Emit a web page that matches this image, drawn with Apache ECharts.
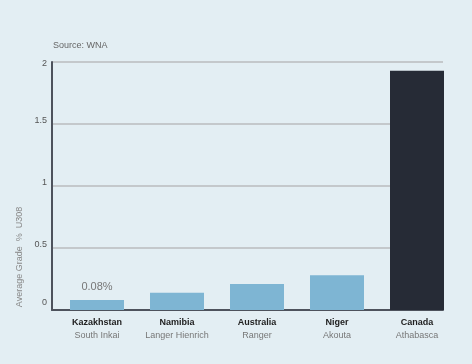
<!DOCTYPE html>
<html><head><meta charset="utf-8">
<script src="https://cdn.jsdelivr.net/npm/echarts@6/dist/echarts.min.js"></script>
<style>html,body{margin:0;padding:0;background:#e3eef3;}#c{width:472px;height:364px;}</style>
</head><body><div id="c"></div>
<script>
var countries = ['Kazakhstan', 'Namibia', 'Australia', 'Niger', 'Canada'];
var mines = ['South Inkai', 'Langer Hienrich', 'Ranger', 'Akouta', 'Athabasca'];
var grades = [0.08, 0.14, 0.21, 0.28, 1.93];
var yTicks = [0, 0.5, 1, 1.5, 2];
var labelledIndex = 0;

var FONT = '"Liberation Sans", Arial, sans-serif';
var chart = echarts.init(document.getElementById('c'));
var cats = countries.map(function (c, i) { return c + '\n' + mines[i]; });
var tickRich = function (pad) { return { fontFamily: FONT, fontSize: 9, color: '#555', padding: pad }; };
chart.setOption({
  backgroundColor: '#e3eef3',
  animation: false,
  textStyle: { fontFamily: FONT },
  graphic: [
    { type: 'text', left: 53, top: 41, style: { text: 'Source: WNA', fill: '#666', font: '9px ' + FONT } },
    { type: 'text', x: 20, y: 257, rotation: Math.PI / 2, style: { text: 'Average Grade  %  U308', fill: '#888', font: '9px ' + FONT, align: 'center', verticalAlign: 'middle' } }
  ],
  grid: [
    { left: 52, top: 62, width: 391, height: 248 },
    { left: 57, top: 62, width: 400, height: 248 }
  ],
  xAxis: [
    { gridIndex: 0, type: 'value', min: 0, max: 1, axisLine: { show: true, onZero: false, lineStyle: { color: '#4d525c', width: 2 } }, axisTick: { show: false }, axisLabel: { show: false }, splitLine: { show: false } },
    { gridIndex: 1, type: 'category', data: cats, axisLine: { show: false }, axisTick: { show: false },
      axisLabel: { margin: 6, interval: 0,
        formatter: function (v) { var p = v.split('\n'); return '{a|' + p[0] + '}\n{b|' + p[1] + '}'; },
        rich: { a: { fontFamily: FONT, fontSize: 9, fontWeight: 'bold', color: '#222', lineHeight: 13 },
                b: { fontFamily: FONT, fontSize: 9, color: '#777', lineHeight: 13 } } } }
  ],
  yAxis: [
    { gridIndex: 0, type: 'value', min: 0, max: 2, interval: 0.5,
      axisLine: { show: true, lineStyle: { color: '#4d525c', width: 2 } }, axisTick: { show: false },
      axisLabel: { color: '#555', fontSize: 9, fontFamily: FONT, margin: 5,
        formatter: function (v) {
          if (yTicks.indexOf(v) < 0) return '';
          var s = v === 0 ? 'z' : (v === 2 ? 't' : 'm');
          return '{' + s + '|' + v + '}';
        },
        rich: { z: tickRich([0, 0, 14, 0]), t: tickRich([3, 0, 0, 0]), m: tickRich([0, 0, 6, 0]) } },
      splitLine: { show: true, lineStyle: { color: '#c4c8cb', width: 2 } } },
    { gridIndex: 1, type: 'value', min: 0, max: 2, show: false }
  ],
  series: [{
    type: 'bar', xAxisIndex: 1, yAxisIndex: 1, barWidth: 54, z: 3,
    data: grades.map(function (g, i) {
      return { value: g,
        itemStyle: { color: i === grades.length - 1 ? '#262b36' : '#7eb5d3' },
        label: { show: i === labelledIndex, position: 'top', distance: 8, color: '#777', fontSize: 11, fontFamily: FONT, formatter: function (p) { return p.value.toFixed(2) + '%'; } } };
    })
  }]
});
</script></body></html>
